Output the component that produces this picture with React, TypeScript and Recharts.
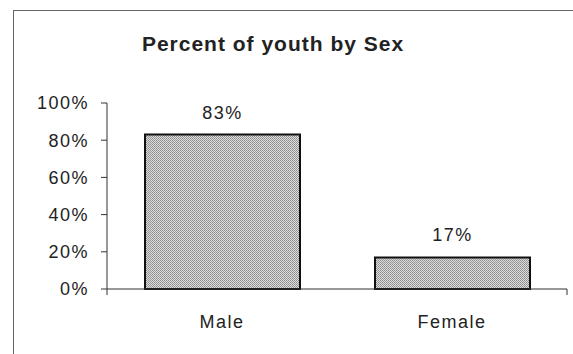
import { BarChart, Bar, XAxis, YAxis, LabelList } from "recharts";

const SEXES = ["Male", "Female"];
const PERCENTS = [83, 17];
const Y_TICKS = [0, 20, 40, 60, 80, 100];
const EDGE_TICKS = [0, 1, 2];

const data = SEXES.map((sex, i) => ({ sex, pct: PERCENTS[i] }));

const FONT = "'Liberation Sans', Arial, sans-serif";
const tickStyle = { fontSize: 18, fill: "#222", fontFamily: FONT, letterSpacing: 1.5 };

export default function App() {
  return (
    <div
      style={{
        position: "absolute",
        left: 0,
        top: 0,
        width: 573,
        height: 354,
        overflow: "hidden",
        background: "#fff",
      }}
    >
      {/* frame around the chart area */}
      <div
        style={{
          position: "absolute",
          left: 13,
          top: 10,
          width: 600,
          height: 400,
          border: "1px solid #666",
        }}
      />
      <div
        style={{
          position: "absolute",
          left: 0,
          width: 546,
          top: 32,
          textAlign: "center",
          fontFamily: FONT,
          fontWeight: "bold",
          fontSize: 21,
          letterSpacing: 1,
          color: "#222",
        }}
      >
        Percent of youth by Sex
      </div>
      <BarChart
        width={573}
        height={354}
        data={data}
        margin={{ top: 103, right: 6, bottom: 25, left: 0 }}
        style={{ position: "absolute", left: 0, top: 0 }}
      >
        <defs>
          <pattern id="stipple" width="2" height="2" patternUnits="userSpaceOnUse">
            <rect width="2" height="2" fill="#dadada" />
            <rect width="1" height="1" fill="#8f8f8f" />
            <rect x="1" y="1" width="1" height="1" fill="#9c9c9c" />
          </pattern>
        </defs>
        {/* numeric axis only used for the tick marks between categories;
            id 0 keeps it next to the plot area */}
        <XAxis
          xAxisId={0}
          type="number"
          domain={[0, 2]}
          ticks={EDGE_TICKS}
          height={1}
          tickSize={6}
          tickFormatter={() => ""}
          axisLine={{ stroke: "#333" }}
          tickLine={{ stroke: "#333" }}
        />
        <XAxis
          xAxisId="cat"
          dataKey="sex"
          height={39}
          axisLine={false}
          tickLine={false}
          tickSize={0}
          tickMargin={25}
          tick={tickStyle}
        />
        <YAxis
          width={107}
          domain={[0, 100]}
          ticks={Y_TICKS}
          tickFormatter={(v: number) => `${v}%`}
          tickSize={6}
          tickMargin={12}
          tick={tickStyle}
          axisLine={{ stroke: "#333" }}
          tickLine={{ stroke: "#333" }}
        />
        <Bar
          xAxisId="cat"
          dataKey="pct"
          barSize={155}
          fill="url(#stipple)"
          stroke="#111"
          strokeWidth={2}
          isAnimationActive={false}
        >
          <LabelList
            dataKey="pct"
            position="top"
            offset={16}
            formatter={(v: number) => `${v}%`}
            style={{ fontSize: 18, fill: "#222", fontFamily: FONT, letterSpacing: 1.5 }}
          />
        </Bar>
      </BarChart>
    </div>
  );
}
